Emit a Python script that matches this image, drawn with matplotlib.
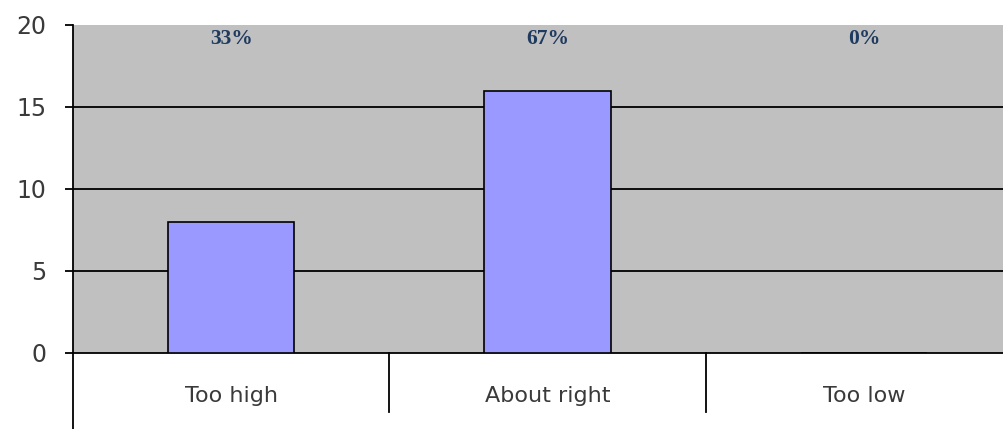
import matplotlib.pyplot as plt

categories = ["Too high", "About right", "Too low"]
counts = [8, 16, 0]
pct_labels = ["33%", "67%", "0%"]
y_ticks = [0, 5, 10, 15, 20]

W, H = 1004, 429
fig = plt.figure(figsize=(W / 100, H / 100), dpi=100)
# plot area: left at x=73, top y=25, zero line y=353; runs off the right edge
ax = fig.add_axes([73 / W, (H - 353) / H, 949 / W, 328 / H])
ax.set_facecolor("#C0C0C0")

x = list(range(len(categories)))
ax.bar(x, counts, width=0.4, color="#9999FF", edgecolor="black", linewidth=1.2, zorder=3)

ax.set_xlim(-0.5, 2.5)
ax.set_ylim(0, 20)
ax.set_yticks(y_ticks)
ax.set_yticklabels([str(t) for t in y_ticks], fontsize=17, color="#3a3a3a",
                   family="DejaVu Sans")
for t in y_ticks[1:-1]:
    ax.axhline(t, color="black", linewidth=1.3, zorder=2)
ax.tick_params(axis="y", length=6, width=1.3, pad=13)
ax.set_xticks([])

for s in ["top", "right"]:
    ax.spines[s].set_visible(False)
ax.spines["bottom"].set_linewidth(1.3)
ax.spines["left"].set_linewidth(1.3)
ax.spines["left"].set_zorder(4)

# y axis line runs down through the category strip
ax.plot([-0.5, -0.5], [0, -0.25], transform=ax.get_xaxis_transform(),
        color="black", linewidth=1.3, clip_on=False)
# category separators below the axis
for b in [0.5, 1.5]:
    ax.plot([b, b], [0, -0.18], transform=ax.get_xaxis_transform(),
            color="black", linewidth=1.3, clip_on=False)

for i, name in enumerate(categories):
    ax.text(i, -0.13, name, transform=ax.get_xaxis_transform(), ha="center",
            va="center", fontsize=16, color="#3a3a3a", family="DejaVu Sans")
    ax.text(i, 0.958, pct_labels[i], transform=ax.get_xaxis_transform(), ha="center",
            va="center", fontsize=15.5, fontweight="bold", color="#1F3A5F",
            family="Liberation Serif")

fig.savefig("out.png", dpi=100)
